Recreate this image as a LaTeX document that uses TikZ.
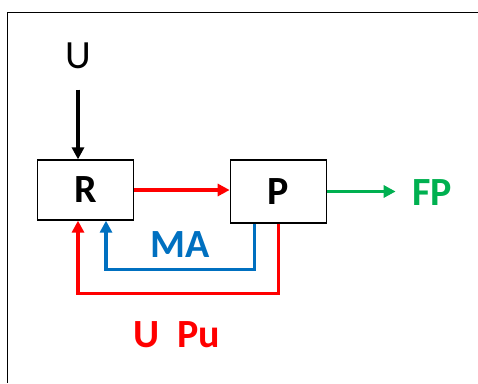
\documentclass[tikz,border=0pt]{standalone}
\usepackage{fontspec}
\setmainfont{Carlito}
\usetikzlibrary{arrows.meta,positioning}
\definecolor{loopred}{HTML}{FF0000}
\definecolor{loopblue}{HTML}{0070C0}
\definecolor{outgreen}{HTML}{00B050}

\begin{document}
\begin{tikzpicture}[x=1pt,y=-1pt, every node/.style={font=\fontsize{40}{48}\selectfont\bfseries},
      block/.style={draw,line width=1.3pt,minimum width=96pt,inner sep=0pt},
      arrow/.style={-{Triangle[length=12pt,width=12pt]},line width=3.3pt}]
    \useasboundingbox (0,0) rectangle (478,383);
    \draw[line width=1.2pt] (478,12.5) -- (7.5,12.5) -- (7.5,383);
    \node[block,minimum height=60pt] (R) at (85.5,190) {R};
    \node[block,minimum height=63pt,right=95.5pt of R,yshift=-1.5pt] (P) {P};
    \node[font=\fontsize{40}{48}\selectfont] (U) at (78,56) {U};
    \node[text=outgreen] (FP) at (432,193) {FP};
    \node[text=loopblue] (MA) at (180,245) {MA};
    \node[text=loopred] (UPu) at (177,335) {U\hspace{0.45em}Pu};
    \draw[arrow,shorten <=17pt] (U.south)--(U.south |- R.north);
    \draw[arrow,loopred] (R.east |- R)--(P.west |- R);
    \draw[arrow,outgreen,shorten >=13pt] (P.east)--(P.east -| FP.west);
    \draw[arrow,loopblue] ([xshift=-24pt]P.south)-- ++(0,46) -| ([xshift=20.5pt]R.south);
    \draw[arrow,loopred] (P.south)-- ++(0,70) -| ([xshift=-7.5pt]R.south);
  \end{tikzpicture}
\end{document}
